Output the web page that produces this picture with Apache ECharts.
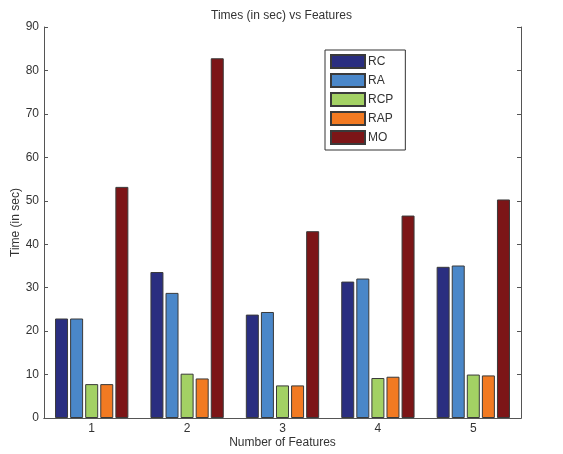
<!DOCTYPE html>
<html><head><meta charset="utf-8">
<script src="https://cdn.jsdelivr.net/npm/echarts@6/dist/echarts.min.js"></script>
<style>html,body{margin:0;padding:0;background:#fff}#c{width:563px;height:454px}</style>
</head><body><div id="c"></div>
<script>
const categories = ['1','2','3','4','5'];
const seriesNames = ['RC','RA','RCP','RAP','MO'];
const RC  = [22.9, 33.6, 23.8, 31.4, 34.8];
const RA  = [22.9, 28.8, 24.4, 32.1, 35.1];
const RCP = [7.8, 10.2, 7.5, 9.2, 10.0];
const RAP = [7.8, 9.1, 7.5, 9.5, 9.8];
const MO  = [53.2, 82.8, 43.0, 46.6, 50.3];
const colors = ['#2a2e80','#4a87c9','#a3d164','#f27a22','#7c1517'];
const values = [RC, RA, RCP, RAP, MO];

const font = 'Liberation Sans, Arial, sans-serif';
const axisColor = '#555';
const chart = echarts.init(document.getElementById('c'));
chart.setOption({
  animation: false,
  textStyle: {fontFamily: font},
  title: {text: 'Times (in sec) vs Features', left: 'center', top: 5,
    textStyle: {fontSize: 12, fontWeight: 'normal', color: '#333', fontFamily: font}},
  legend: {orient: 'vertical', left: 325, top: 50, itemWidth: 34, itemHeight: 13,
    itemGap: 4, padding: [4, 12, 5, 5], borderColor: '#333', borderWidth: 1,
    backgroundColor: '#fff', icon: 'rect',
    textStyle: {fontSize: 12, color: '#333', padding: [0,0,0,-2]},
    data: seriesNames},
  grid: {left: 44, right: 42, top: 27, bottom: 36, outerBoundsMode: 'none', containLabel: false},
  xAxis: [
    {type: 'category', data: categories, position: 'bottom', boundaryGap: true,
     name: 'Number of Features', nameLocation: 'middle', nameGap: 19, nameMoveOverlap: false,
     nameTextStyle: {fontSize: 12, color: '#333', verticalAlign: 'top'},
     axisLine: {lineStyle: {color: axisColor}},
     axisTick: {inside: true, alignWithLabel: true, length: 4, lineStyle: {color: axisColor}},
     axisLabel: {fontSize: 12, color: '#333', margin: 5}},
    {type: 'category', data: categories, position: 'top', boundaryGap: true,
     axisLine: {show: true, lineStyle: {color: axisColor}},
     axisTick: {inside: true, alignWithLabel: true, length: 4, lineStyle: {color: axisColor}},
     axisLabel: {show: false}}
  ],
  yAxis: [
    {type: 'value', min: 0, max: 90, interval: 10, position: 'left',
     name: 'Time (in sec)', nameLocation: 'middle', nameGap: 22, nameMoveOverlap: false,
     nameTextStyle: {fontSize: 12, color: '#333'},
     axisLine: {show: true, lineStyle: {color: axisColor}},
     axisTick: {show: true, inside: true, length: 4, lineStyle: {color: axisColor}},
     axisLabel: {fontSize: 12, color: '#333', margin: 5},
     splitLine: {show: false}},
    {type: 'value', min: 0, max: 90, interval: 10, position: 'right',
     axisLine: {show: true, lineStyle: {color: axisColor}},
     axisTick: {show: true, inside: true, length: 4, lineStyle: {color: axisColor}},
     axisLabel: {show: false}, splitLine: {show: false}}
  ],
  series: seriesNames.map((n, i) => ({
    name: n, type: 'bar', data: values[i], barWidth: 13, barGap: '16%',
    itemStyle: {color: colors[i], borderColor: '#3a3a3a', borderWidth: 1}
  }))
});
</script></body></html>
